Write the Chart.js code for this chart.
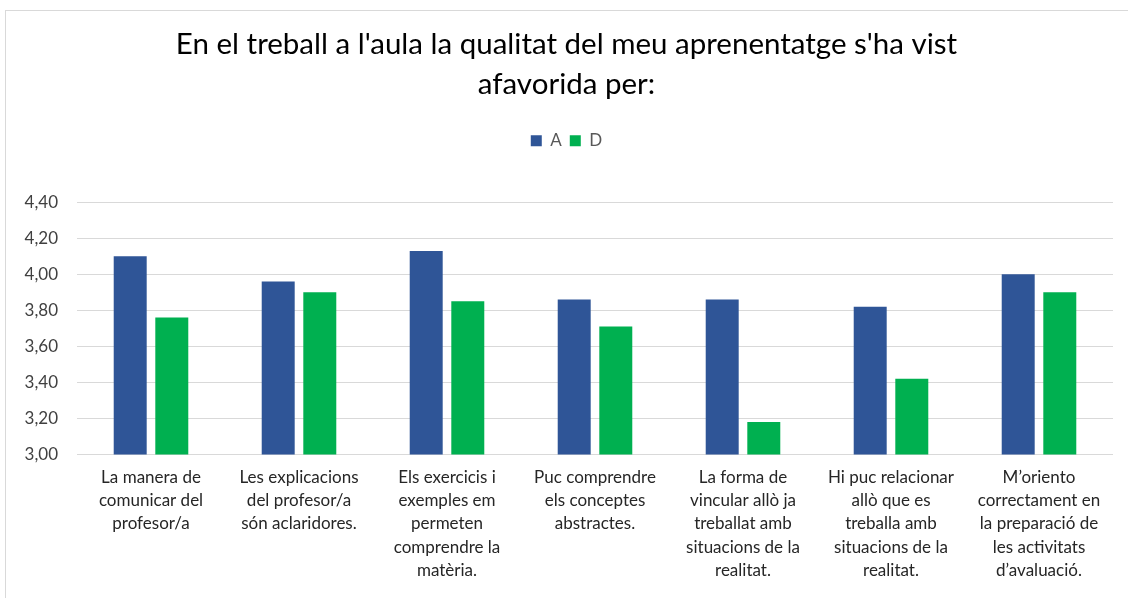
<!DOCTYPE html>
<html>
<head>
<meta charset="utf-8">
<script src="https://cdn.jsdelivr.net/npm/chart.js@4/dist/chart.umd.min.js"></script>
<style>
  html, body { margin: 0; padding: 0; background: #fff; overflow: hidden; }
  #frame {
    position: absolute; left: 5px; top: 10px; width: 1140px; height: 620px;
    border: 1px solid #d9d9d9;
  }
  #wrap { position: absolute; left: 0; top: 0; width: 1128px; height: 598px; }
</style>
</head>
<body>
<div id="frame"></div>
<div id="wrap"><canvas id="chart"></canvas></div>
<script>
const categories = [
  ["La manera de", "comunicar del", "profesor/a"],
  ["Les explicacions", "del profesor/a", "són aclaridores."],
  ["Els exercicis i", "exemples em", "permeten", "comprendre la", "matèria."],
  ["Puc comprendre", "els conceptes", "abstractes."],
  ["La forma de", "vincular allò ja", "treballat amb", "situacions de la", "realitat."],
  ["Hi puc relacionar", "allò que es", "treballa amb", "situacions de la", "realitat."],
  ["M’oriento", "correctament en", "la preparació de", "les activitats", "d’avaluació."],
];
const valuesA = [4.10, 3.96, 4.13, 3.86, 3.86, 3.82, 4.00];
const valuesD = [3.76, 3.90, 3.85, 3.71, 3.18, 3.42, 3.90];
const yTicks = [3.0, 3.2, 3.4, 3.6, 3.8, 4.0, 4.2, 4.4];

const fontFamily = "Lato, 'Open Sans', sans-serif";

// extra space under the legend, like the Excel original
const legendGap = {
  id: "legendGap",
  beforeInit(chart) {
    const fit = chart.legend.fit;
    chart.legend.fit = function () {
      fit.bind(chart.legend)();
      this.height += 43;
    };
  },
};

const ctx = document.getElementById("chart").getContext("2d");
new Chart(ctx, {
  type: "bar",
  data: {
    labels: categories,
    datasets: [
      {
        label: "A",
        data: valuesA,
        backgroundColor: "#2f5597",
        borderWidth: 0,
        categoryPercentage: 0.562,
        barPercentage: 0.793,
      },
      {
        label: "D",
        data: valuesD,
        backgroundColor: "#00b050",
        borderWidth: 0,
        categoryPercentage: 0.562,
        barPercentage: 0.793,
      },
    ],
  },
  options: {
    responsive: true,
    maintainAspectRatio: false,
    animation: false,
    layout: { padding: { left: 20, right: 15, top: 14, bottom: 13 } },
    plugins: {
      title: {
        display: true,
        text: ["En el treball a l'aula la qualitat del meu aprenentatge s'ha vist", "afavorida per:"],
        color: "#000000",
        font: { family: fontFamily, size: 29.5, weight: "normal", lineHeight: 1.36 },
        padding: { top: 10, bottom: 20 },
      },
      legend: {
        display: true,
        position: "top",
        labels: {
          color: "#595959",
          font: { family: fontFamily, size: 17 },
          boxWidth: 11,
          boxHeight: 11,
          padding: 8,
        },
      },
      tooltip: { enabled: false },
    },
    scales: {
      x: {
        grid: { display: false },
        border: { display: false },
        ticks: {
          color: "#262626",
          font: { family: fontFamily, size: 17, lineHeight: 1.37 },
          maxRotation: 0,
          autoSkip: false,
          padding: 3,
        },
      },
      y: {
        min: 3,
        max: 4.4,
        afterBuildTicks: (axis) => {
          axis.ticks = yTicks.map((v) => ({ value: v }));
        },
        afterFit: (axis) => {
          axis.width = 57;
        },
        grid: { color: "#d9d9d9", lineWidth: 1, drawTicks: false },
        border: { display: false },
        ticks: {
          color: "#404040",
          font: { family: fontFamily, size: 17 },
          padding: 19,
          callback: (value) => value.toFixed(2).replace(".", ","),
        },
      },
    },
  },
  plugins: [legendGap],
});
</script>
</body>
</html>
